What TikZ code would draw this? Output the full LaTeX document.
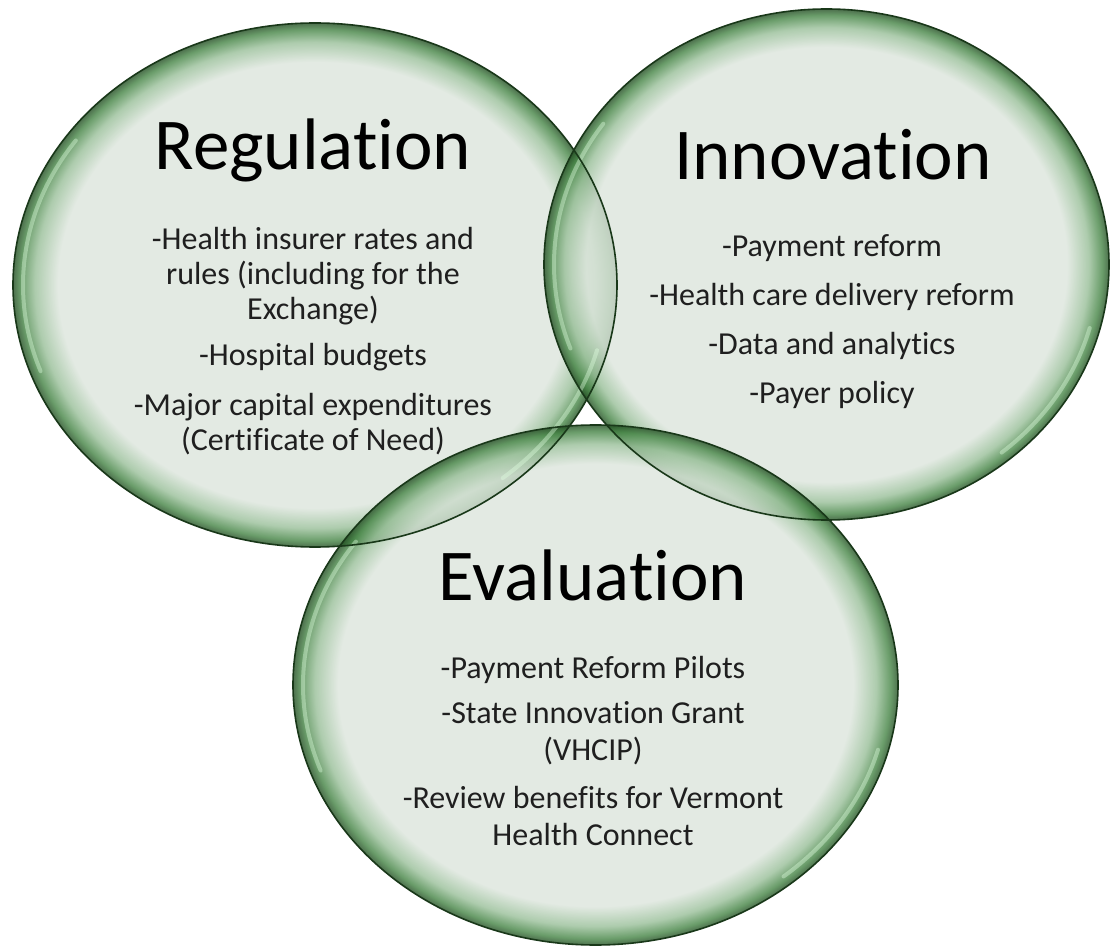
\documentclass[tikz,border=0pt]{standalone}
\usepackage{fontspec}
\setmainfont{Carlito}[Ligatures={NoCommon}]
\definecolor{bin}{rgb}{0.862,0.898,0.862}
\definecolor{bmid}{rgb}{0.60,0.75,0.60}
\definecolor{bgreen}{rgb}{0.27,0.52,0.27}
\definecolor{bdark}{rgb}{0.13,0.30,0.13}
\definecolor{bline}{rgb}{0.10,0.22,0.10}
\definecolor{txt}{rgb}{0.12,0.12,0.12}
\pgfdeclareradialshading{bubble}{\pgfpoint{0bp}{0bp}}{color(0bp)=(bin); color(21.3bp)=(bin); color(23.2bp)=(bmid); color(24.4bp)=(bgreen); color(25bp)=(bdark); color(50bp)=(bdark)}
\tikzset{
  bubblefill/.style={shading=bubble, fill opacity=0.8},
  bubbleline/.style={draw=bline, line width=1.6pt},
  glint/.style={draw=white!80!green!60!white, line width=4pt, draw opacity=0.4, line cap=round},
  title/.style={font=\fontsize{73}{86}\selectfont, text=black, anchor=base, inner sep=0pt},
  item/.style={font=\fontsize{32}{38}\selectfont, text=txt, anchor=base, inner sep=0pt},
}
\begin{document}
\begin{tikzpicture}[x=1pt,y=-1pt]
\useasboundingbox (0,0) rectangle (1112,949);
\fill[white] (0,0) rectangle (1112,949);
% centres
\coordinate (cr) at (315,285);
\coordinate (ci) at (826.5,264.5);
\coordinate (ce) at (595.5,685);
% fills
\path[bubblefill] (cr) ellipse [x radius=302, y radius=262];
\path[bubblefill] (ci) ellipse [x radius=282.5, y radius=255.5];
\path[bubblefill] (ce) ellipse [x radius=302.5, y radius=260];
% glints
\draw[glint] (cr) ++(160:292 and 252) arc [start angle=160, end angle=215, x radius=292, y radius=252];
\draw[glint] (cr) ++(15:292 and 252) arc [start angle=15, end angle=50, x radius=292, y radius=252];
\draw[glint] (ci) ++(160:272.5 and 245.5) arc [start angle=160, end angle=215, x radius=272.5, y radius=245.5];
\draw[glint] (ci) ++(15:272.5 and 245.5) arc [start angle=15, end angle=50, x radius=272.5, y radius=245.5];
\draw[glint] (ce) ++(160:292.5 and 250) arc [start angle=160, end angle=215, x radius=292.5, y radius=250];
\draw[glint] (ce) ++(15:292.5 and 250) arc [start angle=15, end angle=50, x radius=292.5, y radius=250];
% outlines
\draw[bubbleline] (cr) ellipse [x radius=302, y radius=262];
\draw[bubbleline] (ci) ellipse [x radius=282.5, y radius=255.5];
\draw[bubbleline] (ce) ellipse [x radius=302.5, y radius=260];
% Regulation
\node[title] (rt) at (313,170) {Regulation};
\node[item] (r1) at (313,250) {-Health insurer rates and};
\node[item] (r2) at (313,285) {rules (including for the};
\node[item] (r3) at (313,320) {Exchange)};
\node[item] (r4) at (313,366) {-Hospital budgets};
\node[item] (r5) at (313,416) {-Major capital expenditures};
\node[item] (r6) at (313,451) {(Certificate of Need)};
% Innovation
\node[title] (it) at (833,180) {Innovation};
\node[item] (i1) at (832,257) {-Payment reform};
\node[item] (i2) at (832,306) {-Health care delivery reform};
\node[item] (i3) at (832,355) {-Data and analytics};
\node[item] (i4) at (832,404) {-Payer policy};
% Evaluation
\node[title] (et) at (593,600) {Evaluation};
\node[item] (e1) at (593,678) {-Payment Reform Pilots};
\node[item] (e2) at (593,723) {-State Innovation Grant};
\node[item] (e3) at (593,760) {(VHCIP)};
\node[item] (e4) at (593,808) {-Review benefits for Vermont};
\node[item] (e5) at (593,845) {Health Connect};
\end{tikzpicture}
\end{document}
